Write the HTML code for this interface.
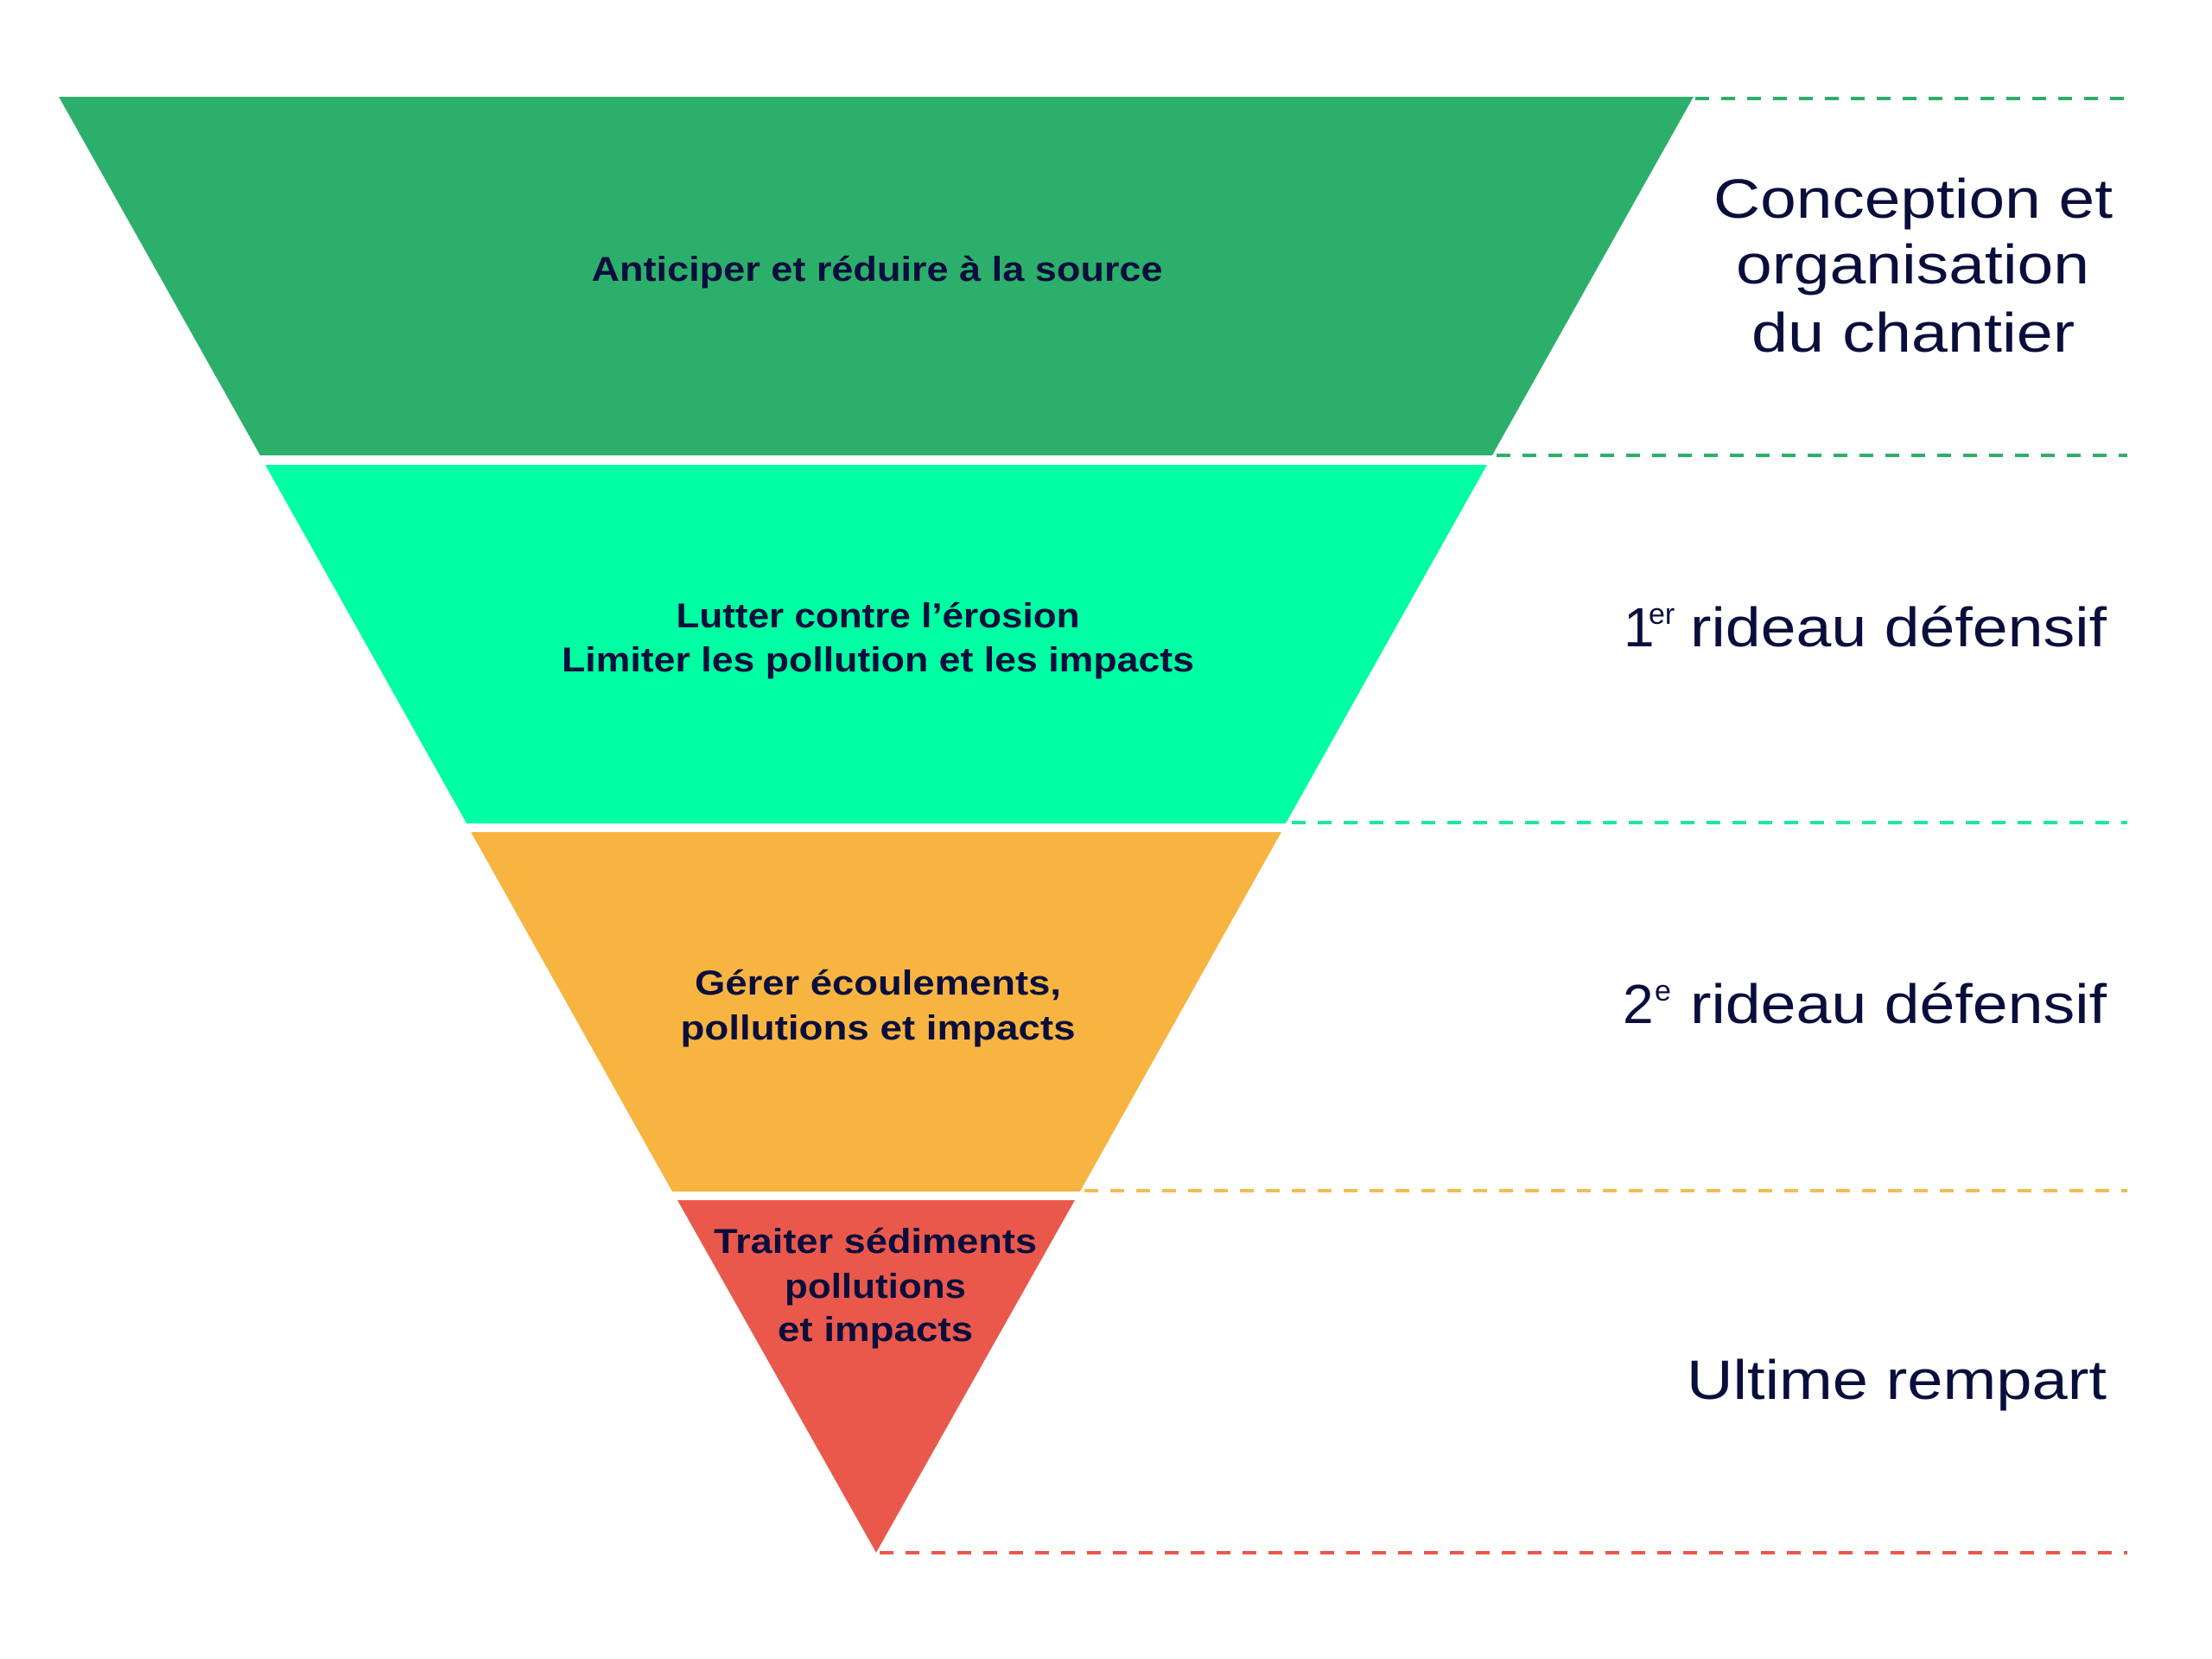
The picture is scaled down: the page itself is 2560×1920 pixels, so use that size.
<!DOCTYPE html>
<html><head><meta charset="utf-8"><style>html,body{margin:0;padding:0;background:#fff}svg{display:block}</style></head>
<body>
<svg width="2560" height="1920" viewBox="0 0 2560 1920" xmlns="http://www.w3.org/2000/svg">
<rect width="2560" height="1920" fill="#fff"/>
<!-- bands -->
<polygon points="68,112 1960,112 1727,527 301,527" fill="#2daf6c"/>
<polygon points="307,538 1721,538 1488,953 540,953" fill="#00fea2"/>
<polygon points="545,963 1483,963 1250,1379 778,1379" fill="#f7b441"/>
<polygon points="784,1389 1244,1389 1014,1797" fill="#ea584c"/>
<!-- dashed lines -->
<g stroke-width="4" stroke-dasharray="16 14" fill="none">
<line x1="1962" y1="114" x2="2462" y2="114" stroke="#2daf6c"/>
<line x1="1732" y1="527" x2="2462" y2="527" stroke="#2daf6c"/>
<line x1="1495" y1="952" x2="2462" y2="952" stroke="#1ce89e"/>
<line x1="1255" y1="1378" x2="2462" y2="1378" stroke="#f2bd55"/>
<line x1="1018" y1="1797" x2="2462" y2="1797" stroke="#ea584c"/>
</g>
<!-- inner labels -->
<g font-family="Liberation Sans, sans-serif" font-weight="bold" font-size="40" fill="#0a0e3c" text-anchor="middle">
<text x="1015" y="325" textLength="661" lengthAdjust="spacingAndGlyphs">Anticiper et réduire à la source</text>
<text x="1016" y="726" textLength="467" lengthAdjust="spacingAndGlyphs">Lutter contre l’érosion</text>
<text x="1016" y="777" textLength="732" lengthAdjust="spacingAndGlyphs">Limiter les pollution et les impacts</text>
<text x="1016" y="1151" textLength="424" lengthAdjust="spacingAndGlyphs">Gérer écoulements,</text>
<text x="1016" y="1203" textLength="457" lengthAdjust="spacingAndGlyphs">pollutions et impacts</text>
<text x="1013" y="1450" textLength="374" lengthAdjust="spacingAndGlyphs">Traiter sédiments</text>
<text x="1013" y="1502" textLength="210" lengthAdjust="spacingAndGlyphs">pollutions</text>
<text x="1013" y="1552" textLength="226" lengthAdjust="spacingAndGlyphs">et impacts</text>
</g>
<!-- right labels -->
<g font-family="Liberation Sans, sans-serif" font-size="64" fill="#0a0e3c">
<text x="1983" y="252" textLength="462" lengthAdjust="spacingAndGlyphs">Conception et</text>
<text x="2009" y="328" textLength="409" lengthAdjust="spacingAndGlyphs">organisation</text>
<text x="2027" y="407" textLength="374" lengthAdjust="spacingAndGlyphs">du chantier</text>
<text x="1879" y="748">1</text>
<text x="1908" y="722" font-size="34">er</text>
<text x="1956" y="748" textLength="482" lengthAdjust="spacingAndGlyphs">rideau défensif</text>
<text x="1878" y="1184">2</text>
<text x="1915" y="1158" font-size="34">e</text>
<text x="1956" y="1184" textLength="482" lengthAdjust="spacingAndGlyphs">rideau défensif</text>
<text x="1952" y="1619" textLength="486" lengthAdjust="spacingAndGlyphs">Ultime rempart</text>
</g>
</svg>
</body></html>
